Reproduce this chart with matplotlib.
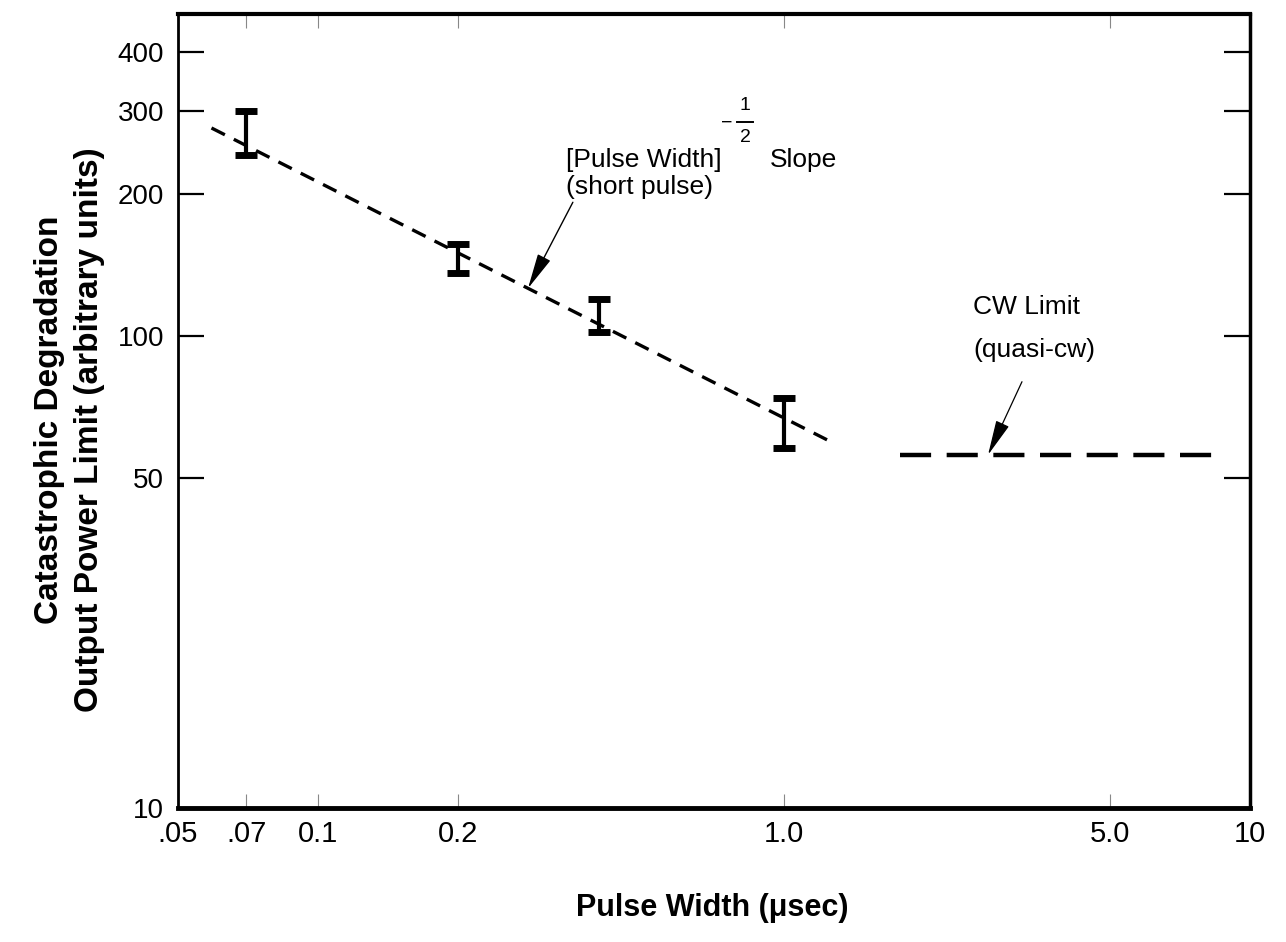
import matplotlib
matplotlib.use("Agg")
import matplotlib.pyplot as plt
from matplotlib.lines import Line2D
from matplotlib.ticker import FixedLocator, FixedFormatter, NullLocator
import numpy as np

# Measured catastrophic-degradation limits (error bar ranges)
pulse_width = [0.07, 0.2, 0.4, 1.0]
power_low = [242, 136, 102, 58]
power_high = [300, 157, 120, 74]

# Short-pulse trend: P = k * W^(-1/2)
slope_k = 67.0
slope_exp = -0.5
slope_x = [0.059, 1.25]

# Quasi-cw limit
cw_level = 56.0
cw_x = [1.77, 8.8]

x_ticks = [0.05, 0.07, 0.1, 0.2, 1.0, 5.0, 10]
x_labels = [".05", ".07", "0.1", "0.2", "1.0", "5.0", "10"]
y_ticks = [10, 50, 100, 200, 300, 400]
y_labels = ["10", "50", "100", "200", "300", "400"]

W, H = 1286, 942
fig = plt.figure(figsize=(W / 100, H / 100), dpi=100)
fig.patch.set_facecolor("white")


def fpos(x, y):
    return x / W, 1 - y / H


sans = ["Liberation Sans", "DejaVu Sans"]

left, right, top, bottom = 178, 1250, 14, 808
ax = fig.add_axes([left / W, 1 - bottom / H, (right - left) / W, (bottom - top) / H])
ax.set_xscale("log")
ax.set_yscale("log")
ax.set_xlim(0.05, 10)
ax.set_ylim(10, 481)

# error bars
lo = np.array(power_low, float)
hi = np.array(power_high, float)
mid = np.sqrt(lo * hi)
ax.errorbar(pulse_width, mid, yerr=[mid - lo, hi - mid], fmt="none",
            ecolor="black", elinewidth=3.0, capsize=8, capthick=5.0, zorder=3)

# short-pulse slope line
xs = np.array(slope_x)
ax.plot(xs, slope_k * xs ** slope_exp, color="black", lw=2.4,
        linestyle=(0, (4.5, 3.0)), zorder=2)

# cw limit line
ax.plot(cw_x, [cw_level, cw_level], color="black", lw=3.2,
        linestyle=(0, (7, 3.5)), zorder=2)

# ticks
ax.xaxis.set_major_locator(FixedLocator(x_ticks))
ax.xaxis.set_major_formatter(FixedFormatter(x_labels))
ax.xaxis.set_minor_locator(NullLocator())
ax.yaxis.set_major_locator(FixedLocator(y_ticks))
ax.yaxis.set_major_formatter(FixedFormatter(y_labels))
ax.yaxis.set_minor_locator(NullLocator())

ax.tick_params(axis="y", which="major", direction="in", length=19, width=1.6,
               left=True, right=True, pad=10, labelsize=20)
ax.tick_params(axis="x", which="major", direction="in", length=10, width=0.8,
               color="#888888", top=True, bottom=True, pad=9, labelsize=21)
for lab in ax.get_yticklabels() + ax.get_xticklabels():
    lab.set_family(sans)

for side, lw in (("left", 2.0), ("bottom", 3.5), ("top", 3.0), ("right", 2.5)):
    ax.spines[side].set_linewidth(lw)
    ax.spines[side].set_color("black")

# axis titles
fig.text(*fpos(712, 908), "Pulse Width (\u03bcsec)", ha="center", va="center",
         fontsize=22, fontweight="bold", family=sans)
fig.text(*fpos(50, 420), "Catastrophic Degradation", ha="center", va="center",
         rotation=90, fontsize=24, fontweight="bold", family=sans)
fig.text(*fpos(90, 430), "Output Power Limit (arbitrary units)", ha="center",
         va="center", rotation=90, fontsize=24, fontweight="bold", family=sans)

# slope annotation
fs = 19
fig.text(*fpos(566, 160), "[Pulse Width]", ha="left", va="center", fontsize=fs, family=sans)
fig.text(*fpos(727, 123), "\u2212", ha="center", va="center", fontsize=14, family=sans)
fig.text(*fpos(745, 106), "1", ha="center", va="center", fontsize=14, family=sans)
fig.text(*fpos(745, 138), "2", ha="center", va="center", fontsize=14, family=sans)
fig.add_artist(Line2D([737 / W, 753 / W], [1 - 122 / H, 1 - 122 / H], color="black",
                      lw=1.4, transform=fig.transFigure))
fig.text(*fpos(770, 160), "Slope", ha="left", va="center", fontsize=fs, family=sans)
fig.text(*fpos(566, 187), "(short pulse)", ha="left", va="center", fontsize=fs, family=sans)

tip_x = 0.282
ax.annotate("", xy=(tip_x, slope_k * tip_x ** slope_exp), xytext=(0.352, 192),
            arrowprops=dict(arrowstyle="-|>,head_length=1.1,head_width=0.22",
                            color="black", lw=1.0, shrinkA=0, shrinkB=0,
                            mutation_scale=20))

# cw annotation
fig.text(*fpos(973, 307), "CW Limit", ha="left", va="center", fontsize=fs, family=sans)
fig.text(*fpos(973, 350), "(quasi-cw)", ha="left", va="center", fontsize=fs, family=sans)
ax.annotate("", xy=(2.74, cw_level), xytext=(3.24, 80),
            arrowprops=dict(arrowstyle="-|>,head_length=1.1,head_width=0.22",
                            color="black", lw=0.9, shrinkA=0, shrinkB=0,
                            mutation_scale=20))

fig.savefig("out.png", dpi=100, facecolor="white")
